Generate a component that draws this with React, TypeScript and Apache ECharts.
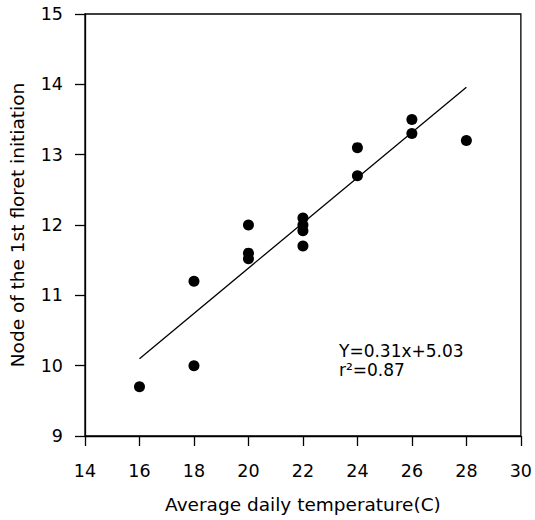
import React, { useEffect, useRef } from "react";
import * as echarts from "echarts";

const temperature = [16, 18, 18, 20, 20, 20, 22, 22, 22, 22, 24, 24, 26, 26, 28];
const node = [9.7, 10.0, 11.2, 12.0, 11.6, 11.52, 12.1, 12.0, 11.92, 11.7, 13.1, 12.7, 13.5, 13.3, 13.2];
const fitX = [16, 28];
const fitY = [10.1, 13.96];
const xTitle = "Average daily temperature(C)";
const yTitle = "Node of the 1st floret initiation";
const eqLine = "Y=0.31x+5.03";
const r2Line = "r\u00B2=0.87";

const FONT = "DejaVu Sans";

export default function App() {
  const ref = useRef<HTMLDivElement>(null);
  useEffect(() => {
    if (!ref.current) return;
    const chart = echarts.init(ref.current, null, { renderer: "svg" });
    const axisCommon = {
      axisLine: { show: true, lineStyle: { color: "#000", width: 1.3 } },
      axisTick: { show: true, inside: false, length: 10, lineStyle: { color: "#000", width: 1.3 } },
      splitLine: { show: false },
      nameLocation: "middle" as const,
    };
    chart.setOption({
      animation: false,
      backgroundColor: "#fff",
      grid: {
        left: 85,
        right: 12,
        top: 14,
        bottom: 84,
        show: true,
        borderColor: "#000",
        borderWidth: 1.3,
        backgroundColor: "transparent",
      },
      xAxis: {
        type: "value",
        min: 14,
        max: 30,
        interval: 2,
        ...axisCommon,
        axisLabel: { color: "#000", fontSize: 17.5, fontFamily: FONT, margin: 26 },
        name: xTitle,
        nameGap: 59,
        nameTextStyle: { color: "#000", fontSize: 18.5, fontFamily: FONT },
      },
      yAxis: {
        type: "value",
        min: 9,
        max: 15,
        interval: 1,
        ...axisCommon,
        axisLabel: { color: "#000", fontSize: 17.5, fontFamily: FONT, margin: 22 },
        name: yTitle,
        nameGap: 58,
        nameTextStyle: { color: "#000", fontSize: 18.5, fontFamily: FONT },
      },
      series: [
        {
          type: "line",
          data: fitX.map((x, i) => [x, fitY[i]]),
          symbol: "none",
          lineStyle: { color: "#000", width: 1.3 },
          silent: true,
        },
        {
          type: "scatter",
          data: temperature.map((x, i) => [x, node[i]]),
          symbol: "circle",
          symbolSize: 11,
          itemStyle: { color: "#000", opacity: 1 },
        },
      ],
      graphic: [
        {
          type: "text",
          left: 339,
          top: 341,
          style: {
            text: eqLine + "\n" + r2Line,
            fill: "#000",
            fontSize: 17,
            lineHeight: 19,
            fontFamily: FONT,
          },
        },
      ],
    });
    return () => chart.dispose();
  }, []);
  return <div ref={ref} style={{ width: 535, height: 520, position: "absolute", left: 0, top: 0 }} />;
}
